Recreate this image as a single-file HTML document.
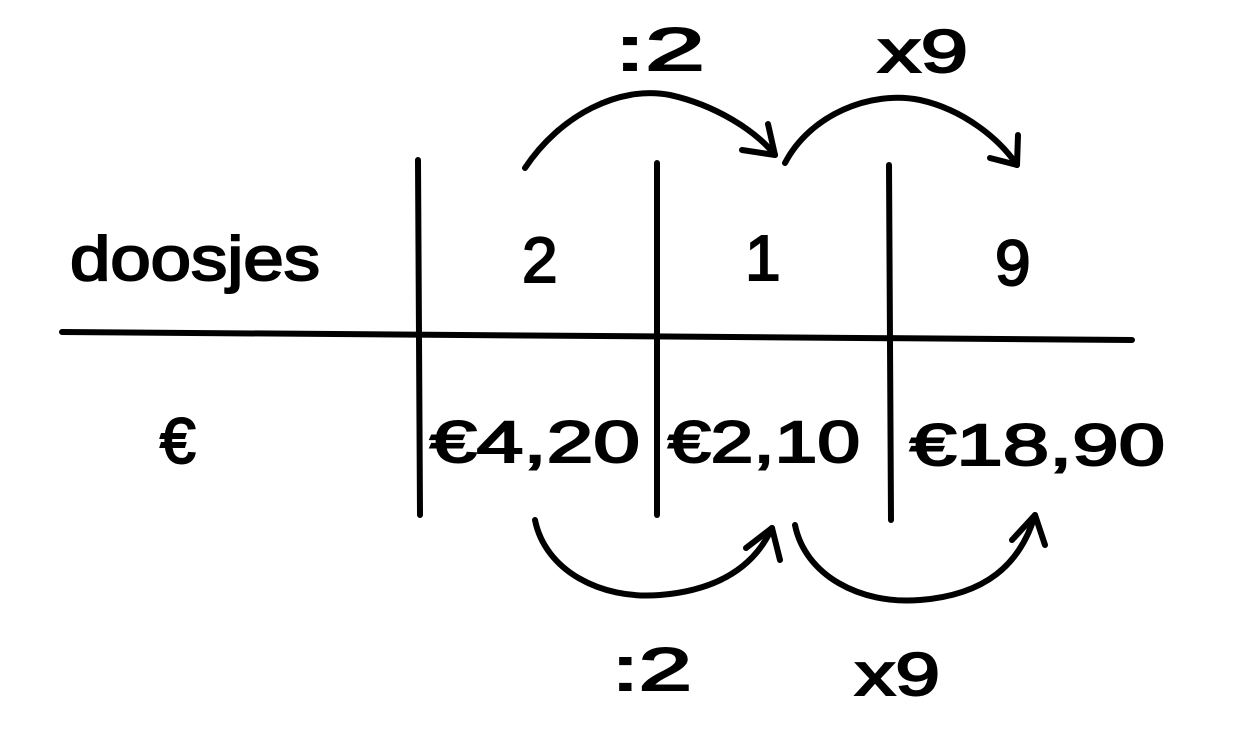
<!DOCTYPE html>
<html><head><meta charset="utf-8"><style>
html,body{margin:0;padding:0;background:#fff;width:1242px;height:754px;overflow:hidden}
svg{display:block}
text{font-family:"Liberation Sans",sans-serif;fill:#000;stroke:#000;stroke-width:2}
</style></head><body>
<svg width="1242" height="754" viewBox="0 0 1242 754" xmlns="http://www.w3.org/2000/svg">
<g stroke="#000" stroke-width="6" fill="none" stroke-linecap="round" stroke-linejoin="round">
<line x1="62" y1="332" x2="1132" y2="340"/>
<line x1="418" y1="160" x2="420" y2="515"/>
<line x1="657" y1="163" x2="657" y2="515"/>
<line x1="889" y1="165" x2="891" y2="520"/>
<path d="M525 168 C560 115 620 85 670 95 C715 105 755 130 775 155"/>
<path d="M742 150 L775 155 L768 124"/>
<path d="M785 163 C810 115 870 90 920 100 C965 110 1000 140 1017 165"/>
<path d="M990 158 L1017 165 L1018 135"/>
<path d="M535 520 C545 570 600 600 660 595 C720 590 755 565 772 528"/>
<path d="M746 548 L772 528 L780 560"/>
<path d="M795 525 C805 575 860 605 920 600 C985 595 1020 565 1035 515"/>
<path d="M1012 540 L1035 515 L1045 545"/>
</g>
<g>
<text x="70" y="280" font-size="62" textLength="250" lengthAdjust="spacingAndGlyphs">doosjes</text>
<text x="522" y="282" font-size="64">2</text>
<text x="745" y="280" font-size="64">1</text>
<text x="995" y="285" font-size="64">9</text>
<text x="160" y="463" font-size="64">€</text>
<text x="430" y="462" font-size="58" textLength="210" lengthAdjust="spacingAndGlyphs">€4,20</text>
<text x="668" y="462" font-size="58" textLength="192" lengthAdjust="spacingAndGlyphs">€2,10</text>
<text x="910" y="465" font-size="58" textLength="255" lengthAdjust="spacingAndGlyphs">€18,90</text>
<text x="615" y="70" font-size="60" textLength="90" lengthAdjust="spacingAndGlyphs">:2</text>
<text x="878" y="72" font-size="60" textLength="90" lengthAdjust="spacingAndGlyphs">x9</text>
<text x="612" y="690" font-size="60" textLength="80" lengthAdjust="spacingAndGlyphs">:2</text>
<text x="855" y="695" font-size="60" textLength="85" lengthAdjust="spacingAndGlyphs">x9</text>
</g>
</svg>
</body></html>
